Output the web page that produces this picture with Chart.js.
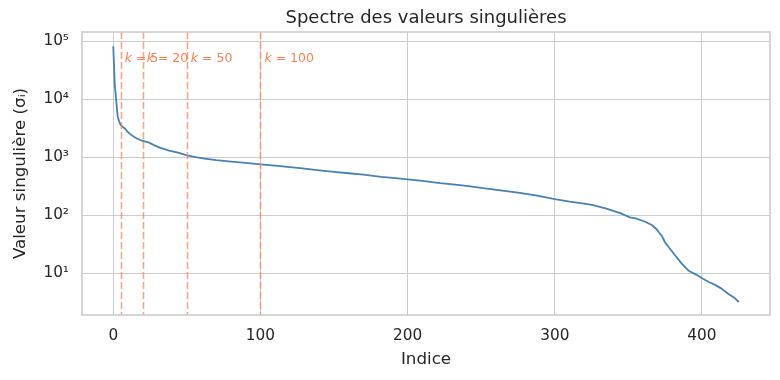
<!DOCTYPE html>
<html>
<head>
<meta charset="utf-8">
<script src="https://cdn.jsdelivr.net/npm/chart.js@4"></script>
<style>
  html, body { margin: 0; padding: 0; background: #ffffff; }
  #wrap { width: 780px; height: 380px; }
</style>
</head>
<body>
<div id="wrap"><canvas id="c" width="780" height="380"></canvas></div>
<script>
// ---- Data ----
const indices = [0,1,2,3,4,5,6,7,8,10,12,14,16,18,20,24,28,32,38,44,50,56,62,70,80,90,100,110,120,127,140,150,160,170,182,190,200,210,222,229,240,250,263,275,288,300,310,320,326,335,345,351,355,361,366,369,371,373,375,378,382,386,391,396,401,405,409,413,418,422,425];
const singularValues = [82000,18000,9400,5000,4150,3600,3400,3250,3100,2700,2450,2250,2100,2000,1920,1800,1600,1450,1300,1200,1080,1000,950,890,840,800,755,715,675,650,595,560,530,500,460,440,415,390,358,345,320,297,268,245,218,190,172,158,150,130,108,92,88,78,68,58,50,43,34,27,20,15,11,9.5,8,7,6.3,5.5,4.4,3.8,3.2];
const kValues = [5, 20, 50, 100];
const xTicks = [0, 100, 200, 300, 400];
const yTicks = [10, 100, 1000, 10000, 100000];
const yTickLabels = ['10\u00B9', '10\u00B2', '10\u00B3', '10\u2074', '10\u2075'];
const titleText = 'Spectre des valeurs singuli\u00E8res';
const xTitle = 'Indice';
const yTitle = 'Valeur singuli\u00E8re (\u03C3\u1D62)';

// ---- Styles ----
const FONT = "'DejaVu Sans', sans-serif";
const TXT = '#262626';
const GRID = '#cccccc';
const LINE = '#4682b4';
const KLINE = 'rgba(255,127,80,0.7)';
const KTEXT = '#ff7f50';

const points = indices.map((x, i) => ({ x: x, y: singularValues[i] }));
const maxVal = Math.max(...singularValues);

const kPlugin = {
  id: 'kLines',
  afterLayout(chart) {
    // centre the title over the plotting area, as matplotlib does
    if (chart.titleBlock) {
      chart.titleBlock.left = chart.chartArea.left;
      chart.titleBlock.right = chart.chartArea.right;
    }
  },
  afterDatasetsDraw(chart) {
    const ctx = chart.ctx;
    const xs = chart.scales.x, ys = chart.scales.y;
    const area = chart.chartArea;
    ctx.save();
    ctx.beginPath();
    ctx.rect(area.left, area.top, area.right - area.left, area.bottom - area.top);
    ctx.clip();
    ctx.strokeStyle = KLINE;
    ctx.lineWidth = 1.6;
    ctx.setLineDash([7, 3]);
    kValues.forEach(k => {
      const px = Math.round(xs.getPixelForValue(k)) + 0.5;
      ctx.beginPath();
      ctx.moveTo(px, area.top);
      ctx.lineTo(px, area.bottom);
      ctx.stroke();
    });
    ctx.setLineDash([]);
    const ty = ys.getPixelForValue(maxVal * 0.6);
    ctx.fillStyle = KTEXT;
    ctx.textBaseline = 'middle';
    ctx.textAlign = 'left';
    kValues.forEach(k => {
      let px = xs.getPixelForValue(k) + 4;
      ctx.font = 'italic 12.5px ' + FONT;
      ctx.fillText('k', px, ty);
      px += ctx.measureText('k').width;
      ctx.font = '12.5px ' + FONT;
      ctx.fillText(' = ' + k, px, ty);
    });
    ctx.restore();
  },
  afterDraw(chart) {
    const ctx = chart.ctx;
    const a = chart.chartArea;
    ctx.save();
    ctx.strokeStyle = GRID;
    ctx.lineWidth = 1.6;
    ctx.strokeRect(a.left, a.top, a.right - a.left, a.bottom - a.top);
    ctx.restore();
  }
};

new Chart(document.getElementById('c'), {
  type: 'line',
  data: {
    datasets: [{
      data: points,
      borderColor: LINE,
      borderWidth: 1.8,
      pointRadius: 0,
      tension: 0,
      fill: false
    }]
  },
  options: {
    responsive: false,
    animation: false,
    devicePixelRatio: 1,
    layout: { padding: { left: 0, right: 10, top: 0, bottom: 0 } },
    plugins: {
      legend: { display: false },
      tooltip: { enabled: false },
      title: {
        display: true,
        text: titleText,
        color: TXT,
        font: { family: FONT, size: 18, weight: 'normal', lineHeight: 1.2 },
        padding: { top: 8, bottom: 2.4 }
      }
    },
    scales: {
      x: {
        type: 'linear',
        min: -21.25,
        max: 446.25,
        afterBuildTicks: s => { s.ticks = xTicks.map(v => ({ value: v })); },
        afterFit: s => { s.height = 65; },
        grid: { color: GRID, lineWidth: 1, drawTicks: false },
        border: { display: false },
        ticks: {
          color: TXT,
          font: { family: FONT, size: 15.3 },
          padding: 12,
          maxRotation: 0,
          callback: v => String(v)
        },
        title: {
          display: true,
          text: xTitle,
          color: TXT,
          font: { family: FONT, size: 16.7, lineHeight: 1.2 },
          padding: { top: 4, bottom: 10.5 }
        }
      },
      y: {
        type: 'logarithmic',
        min: 1.91,
        max: 144000,
        afterBuildTicks: s => { s.ticks = yTicks.map(v => ({ value: v })); },
        afterFit: s => { s.width = 82; },
        grid: { color: GRID, lineWidth: 1, drawTicks: false },
        border: { display: false },
        ticks: {
          color: TXT,
          font: { family: FONT, size: 15.3 },
          padding: 13,
          callback: (v) => { const i = yTicks.indexOf(v); return i >= 0 ? yTickLabels[i] : ''; }
        },
        title: {
          display: true,
          text: yTitle,
          color: TXT,
          font: { family: FONT, size: 16.7, lineHeight: 1.2 },
          padding: { top: 10.5, bottom: 0 }
        }
      }
    }
  },
  plugins: [kPlugin]
});
</script>
</body>
</html>
